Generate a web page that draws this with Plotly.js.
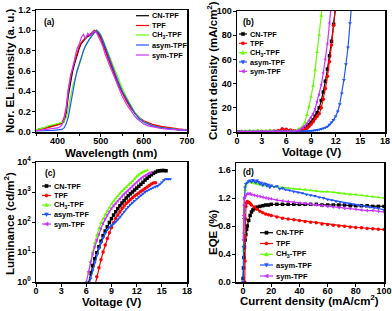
<!DOCTYPE html>
<html><head><meta charset="utf-8">
<script src="https://cdn.plot.ly/plotly-3.0.1.min.js"></script>
<style>html,body{margin:0;padding:0;background:#fff}#chart{width:392px;height:311px}</style>
</head><body><div id="chart"></div>
<script>
// ---------- series meta ----------
const seriesNames = ['CN-TPF','TPF','CH<sub>3</sub>-TPF','asym-TPF','sym-TPF'];
const seriesColors = ['#000000','#ff0000','#66ff00','#2255ff','#cc33ff'];
const seriesSymbols = ['square','circle','triangle-up','triangle-down','triangle-left'];

// ---------- (a) EL spectra ----------
const wavelength = [350,360,370,380,390,400,405,410,415,420,425,430,435,440,445,450,455,460,465,470,475,480,485,490,495,500,505,510,520,530,540,550,560,570,580,590,600,610,620,640,660,680,700];
const elCN   = [0.02,0.03,0.04,0.05,0.06,0.07,0.075,0.085,0.1,0.18,0.36,0.5,0.6,0.68,0.76,0.82,0.87,0.9,0.92,0.94,0.95,0.97,0.99,1.0,0.97,0.93,0.87,0.82,0.7,0.59,0.48,0.39,0.31,0.24,0.18,0.13,0.1,0.08,0.06,0.045,0.03,0.02,0.015];
const elTPF  = [0.02,0.025,0.035,0.045,0.055,0.07,0.08,0.09,0.14,0.24,0.42,0.54,0.63,0.7,0.78,0.84,0.88,0.91,0.93,0.95,0.96,0.98,1.0,0.99,0.96,0.92,0.86,0.8,0.69,0.58,0.47,0.38,0.3,0.23,0.18,0.14,0.11,0.09,0.075,0.055,0.04,0.03,0.02];
const elCH3  = [0.02,0.03,0.045,0.06,0.07,0.08,0.085,0.09,0.1,0.14,0.22,0.34,0.45,0.52,0.58,0.64,0.72,0.8,0.85,0.89,0.92,0.95,0.97,1.0,0.99,0.96,0.91,0.86,0.75,0.64,0.53,0.43,0.34,0.26,0.19,0.14,0.1,0.08,0.06,0.04,0.03,0.02,0.015];
const elAsym = [0.01,0.01,0.01,0.015,0.015,0.02,0.02,0.025,0.04,0.08,0.15,0.28,0.4,0.5,0.6,0.67,0.74,0.8,0.85,0.89,0.92,0.95,0.98,1.0,0.98,0.95,0.9,0.84,0.72,0.61,0.5,0.4,0.32,0.25,0.18,0.13,0.1,0.08,0.06,0.04,0.03,0.02,0.015];
const elSym  = [0.01,0.015,0.02,0.025,0.03,0.04,0.05,0.07,0.12,0.22,0.42,0.56,0.63,0.72,0.82,0.86,0.93,0.96,0.92,0.97,0.95,0.97,0.99,0.98,0.94,0.89,0.84,0.77,0.66,0.55,0.44,0.35,0.27,0.21,0.15,0.11,0.08,0.06,0.05,0.035,0.025,0.02,0.015];

// ---------- (b) J-V ----------
const voltageJ = [0,0.5,1,1.5,2,2.5,3,3.5,4,4.5,5,5.5,6,6.5,7,7.5,8,8.25,8.5,8.75,9,9.25,9.5,9.75,10,10.25,10.5,10.75,11,11.25,11.5,11.75,12,12.25,12.5,12.75,13,13.25,13.5,13.75,14];
const jCN   = [0.2,0.2,0.2,0.2,0.2,0.2,0.2,0.2,0.3,0.3,0.3,0.4,0.4,0.5,0.6,1,2,3,4.5,6,8,10,13,16,20,26,33,42,52,63,75,89,104,null,null,null,null,null,null,null,null];
const jTPF  = [0.3,0.3,0.3,0.3,0.3,0.4,0.4,0.5,0.6,0.8,1.2,2.6,2.2,1.6,1.0,1.0,1.4,2,3,4.5,6.5,8.5,11,13,15,20,27,36,46,58,72,88,105,null,null,null,null,null,null,null,null];
const jCH3  = [0.6,0.9,1.0,1.3,1.0,1.5,0.8,1.0,1.6,0.8,0.6,0.5,0.6,0.8,1.2,2.5,5,8,14,21,29,38,51,66,80,96,112,null,null,null,null,null,null,null,null,null,null,null,null,null,null];
const jAsym = [0.3,0.3,0.3,0.3,0.3,0.3,0.3,0.3,0.3,0.3,0.3,0.3,0.3,0.3,0.3,0.4,0.5,0.6,0.7,0.9,1,1.2,1.4,1.7,2,2.5,3,3.7,4.5,6,8,10,13,17,23,32,43,56,70,90,110];
const jSym  = [0.4,0.4,0.4,0.4,0.4,0.4,0.4,0.4,0.4,0.4,0.4,0.4,0.4,0.5,0.8,1.5,3.5,5,7,9.5,12,15,19,25,31,39,49,60,73,90,108,null,null,null,null,null,null,null,null,null,null];

// ---------- (c) L-V ----------
const voltageL = [6,6.25,6.5,6.75,7,7.25,7.5,7.75,8,8.25,8.5,8.75,9,9.25,9.5,9.75,10,10.25,10.5,10.75,11,11.25,11.5,11.75,12,12.25,12.5,12.75,13,13.25,13.5,13.75,14,14.25,14.5,14.75,15,15.25,15.5,15.75,16];
const lumCN   = [null,0.9,2,3.5,6,9.5,15,23,35,50,70,97,130,170,220,280,350,430,520,630,750,870,1000,1170,1350,1550,1800,2100,2500,2900,3300,3750,4200,4600,5000,5100,5200,5200,5100,null,null];
const lumTPF  = [null,null,null,null,0.7,1.5,3,5.5,10,17,28,44,65,95,130,170,220,280,340,410,480,560,640,730,820,930,1050,1170,1300,1470,1650,1850,2000,2050,null,null,null,null,null,null,null];
const lumCH3  = [null,2,5,10,20,36,60,92,130,175,230,300,400,500,610,740,890,1060,1250,1450,1700,1980,2300,2750,3300,3800,4300,4700,5000,5300,null,null,null,null,null,null,null,null,null,null,null];
const lumAsym = [null,0.7,1.3,2.5,4.5,8,13,20,30,42,55,68,78,88,100,120,145,180,220,270,320,380,440,510,590,680,770,880,1000,1100,1200,1300,1400,1500,1600,1800,2100,2500,2700,2700,2700];
const lumSym  = [1,2.2,4.5,8.5,15,25,40,62,90,125,170,220,280,345,420,505,600,720,850,990,1150,1330,1550,1800,2100,2450,2800,3150,3500,3850,4200,4500,null,null,null,null,null,null,null,null,null];

// ---------- (d) EQE-J ----------
const jEqeCN   = [0,0.3,0.6,1,1.5,2,2.5,3,4,5,6,7,8,10,12,14,16,18,20,24,28,32,36,40,44,48,52,56,60,64,68,72,76,80,84,88,92,96,100];
const eqeCN    = [0.05,0.2,0.35,0.5,0.6,0.68,0.75,0.8,0.88,0.95,1.0,1.03,1.05,1.07,1.08,1.09,1.1,1.1,1.11,1.11,1.11,1.11,1.11,1.11,1.11,1.11,1.11,1.1,1.1,1.1,1.1,1.1,1.09,1.09,1.09,1.09,1.08,1.08,1.08];
const jEqeTPF  = [1.2,1.4,1.6,1.8,2,2.5,3,4,5,6,8,10,12,14,16,18,20,24,28,32,36,40,44,48,52,56,60,64,68,72,76,80,84,88,92,96,100];
const eqeTPF   = [0,0.3,0.65,0.9,1.08,1.13,1.15,1.14,1.12,1.1,1.07,1.04,1.01,0.99,0.97,0.96,0.95,0.93,0.91,0.9,0.89,0.88,0.865,0.855,0.845,0.83,0.82,0.81,0.8,0.795,0.785,0.78,0.775,0.765,0.76,0.755,0.75];
const jEqeCH3  = [0.2,0.4,0.7,1,1.5,2,2.5,3,4,5,6,8,10,12,14,16,18,20,24,28,32,36,40,44,48,52,56,60,64,68,72,76,80,84,88,92,96,100];
const eqeCH3   = [0.45,0.7,1.0,1.2,1.32,1.38,1.41,1.42,1.43,1.43,1.42,1.41,1.4,1.39,1.38,1.38,1.37,1.37,1.36,1.35,1.34,1.33,1.33,1.32,1.31,1.3,1.29,1.29,1.28,1.27,1.26,1.25,1.25,1.24,1.23,1.22,1.21,1.2];
const jEqeAsym = [0,0.3,0.6,1,1.5,2,3,4,5,6,7,8,9,10,11,12,13,14,15,16,17,18,19,20,22,24,26,28,30,33,36,39,42,45,48,51,54,57,60,63,66,69,72,75,78,81,84,87,90,93,96,100];
const eqeAsym  = [0.0,0.5,0.9,1.2,1.35,1.4,1.42,1.44,1.45,1.43,1.46,1.44,1.42,1.45,1.43,1.4,1.42,1.38,1.41,1.4,1.37,1.39,1.35,1.38,1.36,1.37,1.33,1.34,1.32,1.31,1.29,1.28,1.27,1.25,1.24,1.23,1.21,1.2,1.18,1.17,1.15,1.14,1.13,1.12,1.11,1.1,1.09,1.08,1.07,1.06,1.05,1.03];
const jEqeSym  = [0.1,0.3,0.6,1,1.5,2,3,4,5,6,8,10,12,14,16,18,20,24,28,32,36,40,44,48,52,56,60,64,68,72,76,80,84,88,92,96,100];
const eqeSym   = [0.6,0.95,1.1,1.18,1.22,1.24,1.26,1.26,1.26,1.25,1.24,1.23,1.22,1.21,1.2,1.19,1.19,1.17,1.16,1.15,1.14,1.13,1.12,1.11,1.1,1.09,1.08,1.07,1.06,1.05,1.05,1.04,1.03,1.02,1.02,1.01,1.0];

// ---------- axis titles ----------
const axisTitles = [
  {text:'Wavelength (nm)', x:111, y:153, angle:0},
  {text:'Nor. EL intensity (a. u.)', x:10, y:71, angle:-90},
  {text:'Voltage (V)', x:311, y:152, angle:0},
  {text:'Current density (mA/cm<sup>2</sup>)', x:212, y:71, angle:-90},
  {text:'Voltage (V)', x:111, y:302, angle:0},
  {text:'Luminance (cd/m<sup>2</sup>)', x:9, y:224, angle:-90},
  {text:'Current density (mA/cm<sup>2</sup>)', x:309, y:300, angle:0},
  {text:'EQE (%)', x:213, y:232, angle:-90}
];

// ---------- build ----------
const W = 392, H = 311;
const px = x => x / W, py = y => 1 - y / H;
const FONT = 'Liberation Sans, Arial, sans-serif';

const traces = [];
const elY = [elCN, elTPF, elCH3, elAsym, elSym];
elY.forEach((y, i) => traces.push({x: wavelength, y, xaxis:'x', yaxis:'y', mode:'lines',
  line:{color:seriesColors[i], width:1.2}, showlegend:false}));
const jY = [jCN, jTPF, jCH3, jAsym, jSym];
jY.forEach((y, i) => traces.push({x: voltageJ, y, xaxis:'x2', yaxis:'y2', mode:'lines+markers',
  line:{color:seriesColors[i], width:1.2}, marker:{symbol:seriesSymbols[i], size:3.5, color:seriesColors[i]}, showlegend:false, connectgaps:false}));
const lY = [lumCN, lumTPF, lumCH3, lumAsym, lumSym];
lY.forEach((y, i) => traces.push({x: voltageL, y, xaxis:'x3', yaxis:'y3', mode:'lines+markers',
  line:{color:seriesColors[i], width:1.2}, marker:{symbol:seriesSymbols[i], size:3.5, color:seriesColors[i]}, showlegend:false, connectgaps:false}));
const eX = [jEqeCN, jEqeTPF, jEqeCH3, jEqeAsym, jEqeSym];
const eY = [eqeCN, eqeTPF, eqeCH3, eqeAsym, eqeSym];
eY.forEach((y, i) => traces.push({x: eX[i], y, xaxis:'x4', yaxis:'y4', mode:'lines+markers',
  line:{color:seriesColors[i], width:1.2}, marker:{symbol:seriesSymbols[i], size:3.5, color:seriesColors[i]}, showlegend:false}));

function ax(extra) {
  return Object.assign({
    showline:true, mirror:true, linecolor:'#000', linewidth:1.5,
    ticks:'outside', ticklen:3, tickwidth:1, tickcolor:'#000',
    showgrid:false, zeroline:false,
    tickfont:{family:FONT, size:9, color:'#000', weight:'bold'},
  }, extra);
}
const xa = extra => ax(Object.assign({ticklabelstandoff:-3}, extra));
const ya = extra => ax(Object.assign({ticklabelstandoff:-1}, extra));
const minorX = d => ({dtick:d, ticks:'outside', ticklen:2, tickcolor:'#000'});

const annotations = [];
const shapes = [];
function addLegend(x0, x1, tx, rows, withMarkers, fs) {
  rows.forEach((ry, i) => {
    shapes.push({type:'line', xref:'paper', yref:'paper', x0:px(x0), x1:px(x1), y0:py(ry), y1:py(ry),
      line:{color:seriesColors[i], width:1.2}});
    if (withMarkers) {
      const cx = (x0 + x1) / 2, r = 1.6;
      const s = seriesSymbols[i];
      let sh;
      if (s === 'square') sh = {type:'rect', x0:px(cx-r), x1:px(cx+r), y0:py(ry+r), y1:py(ry-r)};
      else if (s === 'circle') sh = {type:'circle', x0:px(cx-r), x1:px(cx+r), y0:py(ry+r), y1:py(ry-r)};
      else {
        let pts;
        if (s === 'triangle-up') pts = [[cx, ry-r-0.4],[cx+r+0.3, ry+r],[cx-r-0.3, ry+r]];
        else if (s === 'triangle-down') pts = [[cx, ry+r+0.4],[cx+r+0.3, ry-r],[cx-r-0.3, ry-r]];
        else pts = [[cx-r-0.4, ry],[cx+r, ry-r-0.3],[cx+r, ry+r+0.3]];
        sh = {type:'path', path:'M' + pts.map(p => px(p[0]) + ',' + py(p[1])).join('L') + 'Z'};
      }
      shapes.push(Object.assign(sh, {xref:'paper', yref:'paper', fillcolor:seriesColors[i], line:{color:seriesColors[i], width:0.5}}));
    }
    annotations.push({xref:'paper', yref:'paper', x:px(tx), y:py(ry), xanchor:'left', yanchor:'middle',
      text:seriesNames[i], showarrow:false, font:{family:FONT, size:fs, color:'#000', weight:'bold'}});
  });
}
addLegend(136, 149, 150, [15.7, 25.5, 35, 45, 55], false, 7.3);
addLegend(239, 247, 248, [34, 43.3, 52.6, 62, 71.3], true, 7.3);
addLegend(42, 51, 52, [186, 195.5, 205, 214.5, 224], true, 7.3);
addLegend(260, 273, 274, [232.7, 243.5, 254.3, 265, 276], true, 7.5);

[['(a)', 42, 22], ['(b)', 241, 22], ['(c)', 43, 173], ['(d)', 241, 172]].forEach(([t, x, y]) =>
  annotations.push({xref:'paper', yref:'paper', x:px(x), y:py(y), xanchor:'left', yanchor:'middle',
    text:t, showarrow:false, font:{family:FONT, size:8.5, color:'#000', weight:'bold'}}));

axisTitles.forEach(t => annotations.push({xref:'paper', yref:'paper', x:px(t.x), y:py(t.y),
  xanchor:'center', yanchor:'middle', textangle:t.angle, text:t.text, showarrow:false,
  font:{family:FONT, size:11.5, color:'#000', weight:'bold'}}));

const logVals = [1, 10, 100, 1000, 10000];
const logText = ['10<sup>0</sup>','10<sup>1</sup>','10<sup>2</sup>','10<sup>3</sup>','10<sup>4</sup>'];

const layout = {
  width: W, height: H, margin:{l:0, r:0, t:0, b:0},
  paper_bgcolor:'#fff', plot_bgcolor:'#fff',
  font:{family:FONT, color:'#000', weight:'bold'},
  showlegend:false,
  xaxis: xa({domain:[px(36), px(187)], anchor:'y', range:[350,700], dtick:100, minor:minorX(50)}),
  yaxis: ya({domain:[py(132), py(10)], anchor:'x', range:[0,1.2], dtick:0.2, tickformat:'.1f'}),
  xaxis2: xa({domain:[px(237), px(385)], anchor:'y2', range:[0,18], dtick:3}),
  yaxis2: ya({domain:[py(132), py(11)], anchor:'x2', range:[0,100], dtick:20}),
  xaxis3: xa({domain:[px(36), px(187)], anchor:'y3', range:[0,18], dtick:3}),
  yaxis3: ya({domain:[py(282), py(162)], anchor:'x3', type:'log', range:[0,4],
    tickvals:logVals, ticktext:logText}),
  xaxis4: xa({domain:[px(236), px(384)], anchor:'y4', range:[-5,100], dtick:20, tick0:0}),
  yaxis4: ya({domain:[py(282), py(163)], anchor:'x4', range:[0,1.7], dtick:0.4, tick0:0, tickformat:'.1f'}),
  annotations, shapes
};

Plotly.newPlot('chart', traces, layout, {staticPlot:true, displayModeBar:false});
</script></body></html>
